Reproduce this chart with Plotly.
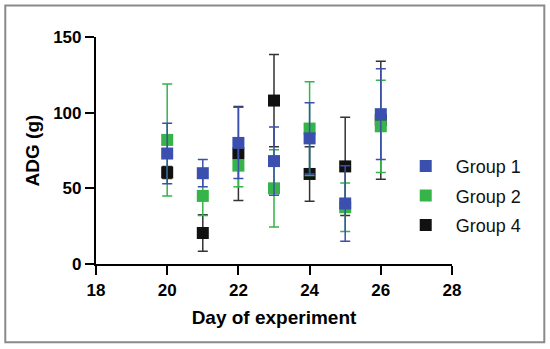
import plotly.graph_objects as go

days = [20, 21, 22, 23, 24, 25, 26]

g1_mean = [73, 60, 80, 68, 83, 40, 99]
g1_err = [20, 9, 23.5, 22.5, 23.5, 25, 30]

g2_mean = [82, 45, 65, 50, 89.5, 37.5, 91]
g2_err = [37, 13, 14, 25.5, 31, 16, 30.5]

g4_mean = [60.5, 20.5, 73, 108, 59.5, 64.5, 95]
g4_err = [4, 12, 31, 30.5, 18, 32.5, 39]

x_ticks = [18, 20, 22, 24, 26, 28]
y_ticks = [0, 50, 100, 150]

FONT = "Arial, Liberation Sans, sans-serif"

fig = go.Figure()

series = [
    ("Group 4", g4_mean, g4_err, "#111111", "#333333", 3),
    ("Group 2", g2_mean, g2_err, "#36b44a", "#36b44a", 2),
    ("Group 1", g1_mean, g1_err, "#3b4fae", "#3b4fae", 1),
]
for name, m, e, col, ecol, rank in series:
    fig.add_trace(go.Scatter(
        x=days, y=m, mode="markers", name="&nbsp;&nbsp;" + name,
        legendrank=rank, legendgroup=name,
        marker=dict(symbol="square", size=12, color=col, line=dict(width=0)),
        error_y=dict(type="data", array=e, visible=True, color=ecol,
                     thickness=1.5, width=5),
        cliponaxis=False,
    ))

fig.update_layout(
    width=550, height=349,
    margin=dict(l=96, r=98, t=37, b=85),
    paper_bgcolor="white", plot_bgcolor="white",
    font=dict(family=FONT, color="black"),
    showlegend=True,
    legend=dict(x=0.870, y=0.30, xanchor="left", yanchor="middle",
                font=dict(size=18, family=FONT, color="#111"),
                tracegroupgap=3, bgcolor="rgba(0,0,0,0)"),
    xaxis=dict(range=[18, 28], tickvals=x_ticks, showgrid=False, zeroline=False,
               showline=True, linecolor="black", linewidth=2.2,
               ticks="outside", ticklen=9, tickwidth=2.2, tickcolor="black",
               tickfont=dict(size=17, family=FONT, weight="bold"),
               title=dict(text="<b>Day of experiment</b>", font=dict(size=19, family=FONT),
                          standoff=12)),
    yaxis=dict(range=[0, 150], tickvals=y_ticks, showgrid=False, zeroline=False,
               showline=True, linecolor="black", linewidth=2.2,
               ticks="outside", ticklen=9, tickwidth=2.2, tickcolor="black",
               tickfont=dict(size=17, family=FONT, weight="bold"),
               title=dict(text="<b>ADG (g)</b>", font=dict(size=19, family=FONT),
                          standoff=8)),
    shapes=[dict(type="rect", xref="paper", yref="paper",
                 x0=-0.2548, x1=1.2593, y0=-0.3445, y1=1.1393,
                 line=dict(color="#8a8a8a", width=2), layer="below")],
)

fig.write_html("out.html",
               config={"displayModeBar": False},
               post_script="document.body.style.margin='0';document.body.style.overflow='hidden';")
